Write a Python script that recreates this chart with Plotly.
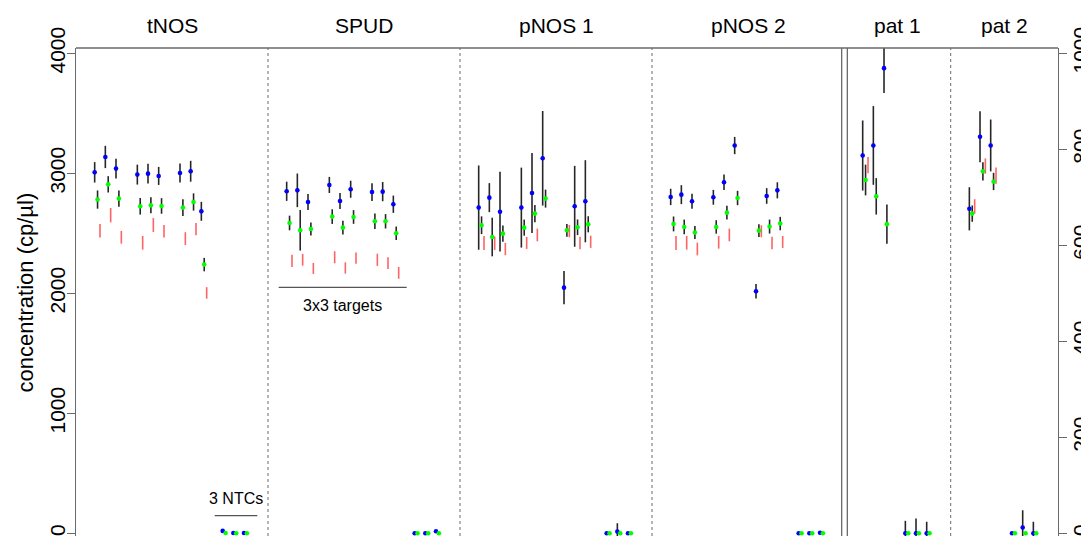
import plotly.graph_objects as go

# ---------------- data ----------------
panels = ["tNOS", "SPUD", "pNOS 1", "pNOS 2", "pat 1", "pat 2"]
panel_start = [0, 18, 36, 54, 72, 82]
panel_center = [9, 27, 45, 63, 77, 87]
n_groups = [4, 4, 4, 4, 2, 2]

# left axis panels (cp/µl), order: 3 targets x 3 reps, then 3 NTCs
tnos_blue = [3008, 3136, 3039, 2989, 2997, 2978, 3003, 3017, 2683, 20, 2, 2]
tnos_blue_err = [85, 93, 82, 83, 83, 75, 79, 87, 79, 0, 0, 0]
tnos_green = [2781, 2908, 2789, 2725, 2733, 2728, 2714, 2761, 2239, 2, 0, 0]
tnos_green_err = [76, 68, 68, 69, 67, 65, 69, 72, 56, 0, 0, 0]
tnos_red = [2521, 2651, 2467, 2421, 2569, 2517, 2456, 2534, 2003, None, None, None]
tnos_red_err = [57, 60, 53, 57, 58, 53, 53, 51, 48, 0, 0, 0]

spud_blue = [2850, 2858, 2761, 2903, 2769, 2867, 2844, 2847, 2742, 0, 0, 17]
spud_blue_err = [80, 140, 67, 67, 67, 71, 74, 80, 72, 0, 0, 0]
spud_green = [2586, 2525, 2536, 2639, 2547, 2636, 2600, 2600, 2500, 0, 0, 0]
spud_green_err = [61, 169, 54, 61, 58, 57, 65, 60, 56, 0, 0, 0]
spud_red = [2270, 2279, 2207, 2300, 2211, 2293, 2279, 2251, 2170, None, None, None]
spud_red_err = [51, 49, 46, 50, 47, 46, 51, 49, 49, 0, 0, 0]

pnos1_blue = [2714, 2797, 2680, 2714, 2836, 3125, 2047, 2725, 2767, 0, 14, 0]
pnos1_blue_err = [351, 121, 332, 333, 334, 394, 139, 337, 342, 0, 70, 0]
pnos1_green = [2567, 2469, 2497, 2547, 2664, 2789, 2525, 2550, 2575, 0, 0, 0]
pnos1_green_err = [74, 161, 68, 67, 72, 75, 53, 65, 67, 0, 0, 0]
pnos1_red = [2419, 2417, 2368, 2420, 2486, None, 2518, 2419, 2429, None, None, None]
pnos1_red_err = [58, 56, 51, 50, 53, 0, 51, 53, 51, 0, 0, 0]

pnos2_blue = [2803, 2822, 2767, 2800, 2925, 3231, 2017, 2811, 2858, 0, 0, 5]
pnos2_blue_err = [68, 79, 62, 62, 65, 72, 61, 65, 67, 0, 0, 0]
pnos2_green = [2578, 2553, 2506, 2553, 2672, 2794, 2522, 2556, 2581, 0, 0, 0]
pnos2_green_err = [62, 61, 54, 56, 58, 60, 53, 58, 56, 0, 0, 0]
pnos2_red = [2419, 2421, 2369, 2425, 2486, None, 2517, 2419, 2428, None, None, None]
pnos2_red_err = [58, 57, 53, 53, 53, 0, 50, 53, 50, 0, 0, 0]

# right axis panels (cp/µl, right scale), order: 3 reps, then 3 NTCs
pat1_blue = [787, 808, 969, 0, 0, 0]
pat1_blue_err = [73, 82, 52, 26, 31, 24]
pat1_green = [736, 702, 644, 0, 0, 0]
pat1_green_err = [32, 38, 41, 0, 0, 0]
pat1_red = [767, None, None, None, None, None]
pat1_red_err = [17, 0, 0, 0, 0, 0]

pat2_blue = [676, 826, 808, 0, 12, 0]
pat2_blue_err = [45, 53, 54, 0, 36, 24]
pat2_green = [666, 754, 733, 0, 0, 0]
pat2_green_err = [17, 19, 18, 0, 0, 0]
pat2_red = [681, 765, 745, None, None, None]
pat2_red_err = [15, 16, 17, 0, 0, 0]

left_ticks = [0, 1000, 2000, 3000, 4000]
right_ticks = [0, 200, 400, 600, 800, 1000]

# ---------------- figure ----------------
FONT = "Liberation Sans, Arial, sans-serif"
BAR = "#262626"
RED = "#ff6464"

panel_data = [
    (tnos_blue, tnos_blue_err, tnos_green, tnos_green_err, tnos_red, tnos_red_err, "y"),
    (spud_blue, spud_blue_err, spud_green, spud_green_err, spud_red, spud_red_err, "y"),
    (pnos1_blue, pnos1_blue_err, pnos1_green, pnos1_green_err, pnos1_red, pnos1_red_err, "y"),
    (pnos2_blue, pnos2_blue_err, pnos2_green, pnos2_green_err, pnos2_red, pnos2_red_err, "y"),
    (pat1_blue, pat1_blue_err, pat1_green, pat1_green_err, pat1_red, pat1_red_err, "y2"),
    (pat2_blue, pat2_blue_err, pat2_green, pat2_green_err, pat2_red, pat2_red_err, "y2"),
]

fig = go.Figure()


def positions(start, ng, shift):
    return [start + 1.75 + 4 * g + r + shift for g in range(ng) for r in range(3)]


for i, (b, be, g, ge, r, re_, yax) in enumerate(panel_data):
    st = panel_start[i]
    ng = n_groups[i]
    # red bars (no point)
    fig.add_trace(go.Scatter(
        x=positions(st, ng, 0.5), y=r, yaxis=yax, mode="markers",
        marker=dict(size=2, color=RED, opacity=0),
        error_y=dict(type="data", array=re_, symmetric=True, width=0,
                     thickness=1.6, color=RED),
        showlegend=False, hoverinfo="skip"))
    fig.add_trace(go.Scatter(
        x=positions(st, ng, 0.0), y=b, yaxis=yax, mode="markers",
        marker=dict(size=4.6, color="#0000ff", line=dict(width=0)),
        error_y=dict(type="data", array=be, symmetric=True, width=0,
                     thickness=1.6, color=BAR),
        showlegend=False, hoverinfo="skip"))
    fig.add_trace(go.Scatter(
        x=positions(st, ng, 0.27), y=g, yaxis=yax, mode="markers",
        marker=dict(size=4.6, color="#00ff00", line=dict(width=0)),
        error_y=dict(type="data", array=ge, symmetric=True, width=0,
                     thickness=1.6, color=BAR),
        showlegend=False, hoverinfo="skip"))

shapes = []
# dashed separators
for xv in [18, 36, 54, 82]:
    shapes.append(dict(type="line", xref="x", yref="paper", x0=xv, x1=xv, y0=0, y1=1,
                       line=dict(color="#6a6a6a", width=1, dash="3px,3px")))
# double solid separator
for xv in [71.78, 72.31]:
    shapes.append(dict(type="line", xref="x", yref="paper", x0=xv, x1=xv, y0=0, y1=1,
                       line=dict(color="#6a6a6a", width=1.3)))
# top frame
shapes.append(dict(type="line", xref="paper", yref="paper", x0=0, x1=1, y0=1, y1=1,
                   line=dict(color="#6a6a6a", width=1.3)))
# annotation lines
shapes.append(dict(type="line", xref="x", yref="y", x0=19, x1=31, y0=2050, y1=2050,
                   line=dict(color="#555555", width=1.3)))
shapes.append(dict(type="line", xref="x", yref="y", x0=13, x1=17, y0=147, y1=147,
                   line=dict(color="#555555", width=1.3)))

annotations = []
for name, cx in zip(panels, panel_center):
    annotations.append(dict(text=name, x=cx, xref="x", y=1.0451, yref="paper",
                            showarrow=False, xanchor="center", yanchor="middle",
                            font=dict(family=FONT, size=21, color="black")))
annotations.append(dict(text="3x3 targets", x=25, xref="x", y=1902, yref="y",
                        showarrow=False, xanchor="center", yanchor="middle",
                        font=dict(family=FONT, size=16, color="black")))
annotations.append(dict(text="3 NTCs", x=15, xref="x", y=294, yref="y",
                        showarrow=False, xanchor="center", yanchor="middle",
                        font=dict(family=FONT, size=16, color="black")))
annotations.append(dict(text="concentration (cp/µl)", x=-0.0519, xref="paper",
                        y=0.499, yref="paper", textangle=-90, showarrow=False,
                        xanchor="center", yanchor="middle",
                        font=dict(family=FONT, size=22, color="black")))

fig.update_layout(
    width=1081, height=536,
    margin=dict(l=76, r=23, t=48, b=0, pad=0),
    paper_bgcolor="white", plot_bgcolor="white",
    font=dict(family=FONT, size=21, color="black"),
    showlegend=False,
    xaxis=dict(range=[0, 92.06], showgrid=False, zeroline=False, showline=False,
               showticklabels=False, ticks="", automargin=False),
    yaxis=dict(range=[-22.5, 4044], tickvals=left_ticks,
               ticktext=[str(v) for v in left_ticks], ticks="outside", ticklen=8,
               tickwidth=1.3, tickcolor="#6a6a6a", tickangle=-90,
               ticklabelstandoff=-7,
               showline=True, linecolor="#6a6a6a", linewidth=1.3,
               showgrid=False, zeroline=False, automargin=False,
               tickfont=dict(family=FONT, size=21, color="black")),
    yaxis2=dict(range=[-22.5 / 4, 4044 / 4], overlaying="y", side="right",
                tickvals=right_ticks, ticktext=[str(v) for v in right_ticks],
                ticks="outside", ticklen=8, tickwidth=1.3, tickcolor="#6a6a6a",
                tickangle=-90, ticklabelstandoff=-4,
                showline=True, linecolor="#6a6a6a", linewidth=1.3,
                showgrid=False, zeroline=False, automargin=False,
                tickfont=dict(family=FONT, size=21, color="black")),
    shapes=shapes,
    annotations=annotations,
)

fig.write_html("out.html")
